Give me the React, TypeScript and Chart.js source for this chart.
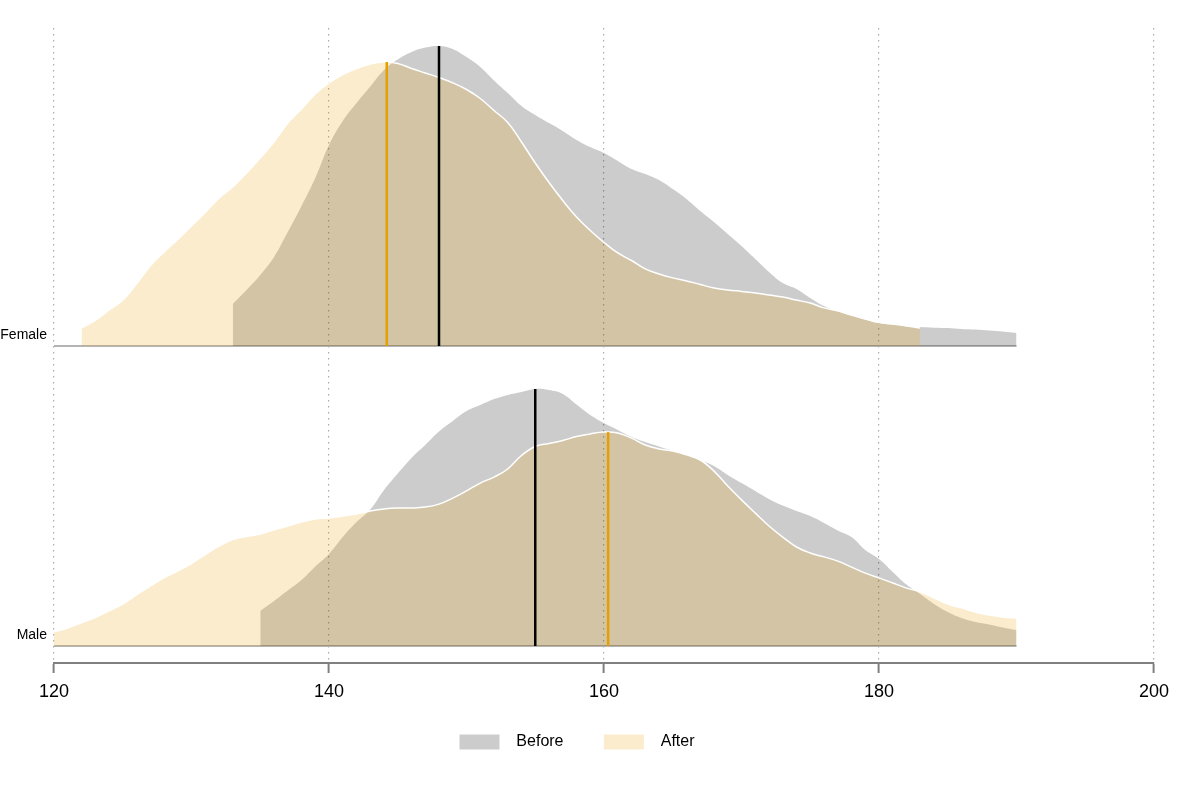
import { useEffect, useRef } from 'react';
import { Chart, registerables } from 'chart.js';

Chart.register(...registerables);

const FONT = "'Liberation Sans', Arial, sans-serif";

// x axis
const xTicks = [120, 140, 160, 180, 200];

// rows (baseline of each ridge on the y scale)
const groups = ['Male', 'Female'];
const groupBase = [0, 100];

// density heights, one value per cm starting at the given height
const femaleBeforeStart = 133;
const femaleBefore = [
  14, 18.7, 23.7, 29.7, 38, 46.7, 56, 67, 75, 81, 86.5, 92, 95.5, 98, 99.5, 100, 99, 96.3, 93, 88.5,
  84.3, 80, 77, 74.3, 71.7, 68.7, 66.3, 64.3, 61.7, 59, 57.3, 55.3, 52.3, 49, 45, 41.3, 37.3, 33.3, 29, 24.7,
  21, 19, 16, 13.3, 11.5, 10.1, 8.8, 7.7, 7.1, 6.6, 6.3, 6.1, 6, 5.7, 5.5, 5.2, 4.8, 4.3,
];

const femaleAfterStart = 122;
const femaleAfter = [
  6, 8.5, 12, 15.3, 20.7, 26.7, 31.3, 35.5, 40, 44.5, 49.3, 53, 57.7, 62.7, 68, 74.3, 79, 84, 87.7, 90.5,
  92.5, 94, 94.7, 94.2, 92.5, 91, 89.5, 87.7, 85.5, 82.5, 78.5, 74.5, 68, 61, 54.5, 48.5, 43, 38.5, 34.5, 31,
  28.5, 25.7, 24, 22.7, 21.7, 20.5, 19.3, 18.7, 18.2, 17.7, 17, 16.3, 15.3, 14.3, 12.7, 11.7, 10.3, 9, 7.8, 7.3,
  6.7, 6,
];

const maleBeforeStart = 135;
const maleBefore = [
  11.7, 15, 18.5, 22, 26.5, 30.7, 36.3, 41.3, 45.5, 52, 57.5, 62.7, 67, 71.5, 75, 78.3, 80.3, 82.3, 83.7, 84.7,
  85.7, 85.3, 84, 80.5, 77, 74.3, 72, 69.7, 68, 66.5, 65, 63.8, 62, 60, 57, 54.3, 51.7, 49, 46.8, 45,
  43.3, 41, 38.5, 36.3, 32, 29, 24.7, 20.5, 17.3, 14, 11.3, 9.3, 8, 7.2, 6.2, 5.3,
];

const maleAfterStart = 120;
const maleAfter = [
  4.7, 6, 7.7, 9.5, 11.7, 14, 17, 20, 22.7, 25, 27.5, 30.5, 33.3, 35.5, 36.5, 37.3, 38.7, 40, 41.3, 42.3,
  42.7, 43.3, 44, 45, 45.7, 46, 46, 46.3, 47.3, 49.3, 51.7, 54.3, 56.3, 59, 63.5, 66.5, 67.5, 68.5, 69.8, 70.7,
  71.3, 71, 69.3, 67, 65.7, 65, 63.7, 62, 58.3, 53.3, 48.7, 44.3, 40, 36.3, 33, 31, 29.7, 28.3, 26.3, 24.3,
  22.7, 21, 19.3, 18, 16, 14, 12.7, 11.3, 10.3, 9.7, 9.3,
];

// medians: [Male, Female] positions and the height their lines reach
const medianBefore = [155, 148];
const medianBeforeTop = [85.7, 100];
const medianAfter = [160.3, 144.2];
const medianAfterTop = [71.3, 94.7];

const lineEnd = 190;

const BEFORE_FILL = 'rgba(0,0,0,0.2)';
const AFTER_FILL = 'rgba(230,159,0,0.2)';

const toPoints = (start: number, values: number[], base: number) =>
  values.map((v, i) => ({ x: start + i, y: base + v }));

export default function App() {
  const canvasRef = useRef<HTMLCanvasElement | null>(null);

  useEffect(() => {
    if (!canvasRef.current) return;
    Chart.defaults.font.family = FONT;

    const ridge = (label: string, data: { x: number; y: number }[], base: number, after: boolean) => ({
      label,
      data,
      fill: { value: base },
      backgroundColor: after ? AFTER_FILL : BEFORE_FILL,
      borderColor: after ? '#ffffff' : 'rgba(0,0,0,0)',
      borderWidth: after ? 1.5 : 0,
      pointRadius: 0,
      tension: 0.4,
      order: after ? 2 : 3,
    });

    const vline = (x: number, base: number, top: number, color: string) => ({
      label: 'median',
      data: [
        { x, y: base },
        { x, y: base + top },
      ],
      borderColor: color,
      borderWidth: 2.5,
      pointRadius: 0,
      fill: false,
      order: 1,
    });

    const datasets: any[] = [];
    groupBase.forEach((base) => {
      datasets.push({
        label: 'baseline',
        data: [
          { x: 120, y: base },
          { x: lineEnd, y: base },
        ],
        borderColor: '#b4b4b4',
        borderWidth: 2,
        pointRadius: 0,
        fill: false,
        order: 4,
      });
    });
    datasets.push(ridge('Before', toPoints(femaleBeforeStart, femaleBefore, 100), 100, false));
    datasets.push(ridge('After', toPoints(femaleAfterStart, femaleAfter, 100), 100, true));
    datasets.push(ridge('Before', toPoints(maleBeforeStart, maleBefore, 0), 0, false));
    datasets.push(ridge('After', toPoints(maleAfterStart, maleAfter, 0), 0, true));
    groupBase.forEach((base, i) => {
      datasets.push(vline(medianBefore[i], base, medianBeforeTop[i], '#000000'));
      datasets.push(vline(medianAfter[i], base, medianAfterTop[i], '#E69F00'));
    });

    // spacing around legend text (no-break spaces) to widen the gaps like the original
    const sp = '\u00a0';

    const chart = new Chart(canvasRef.current, {
      type: 'line',
      data: { datasets },
      options: {
        animation: false,
        responsive: true,
        maintainAspectRatio: false,
        layout: { padding: { left: 0, right: 46, top: 28, bottom: 40 } },
        plugins: {
          tooltip: { enabled: false },
          legend: {
            position: 'bottom',
            labels: {
              boxWidth: 40,
              boxHeight: 15,
              padding: 27,
              color: '#000',
              font: { size: 16, family: FONT },
              generateLabels: () => [
                { text: sp + sp + 'Before' + sp + sp + sp, fillStyle: BEFORE_FILL, strokeStyle: 'rgba(0,0,0,0)', lineWidth: 0, hidden: false, datasetIndex: 2 },
                { text: sp + sp + 'After', fillStyle: AFTER_FILL, strokeStyle: 'rgba(0,0,0,0)', lineWidth: 0, hidden: false, datasetIndex: 3 },
              ],
            },
          },
        },
        scales: {
          x: {
            type: 'linear',
            min: 120,
            max: 200,
            afterBuildTicks: (s: any) => {
              s.ticks = xTicks.map((v) => ({ value: v }));
            },
            afterFit: (s: any) => {
              s.height = 44;
            },
            grid: {
              color: '#aaaaaa',
              lineWidth: 1.2,
              tickColor: '#808080',
              tickLength: 10,
              tickWidth: 2,
            },
            border: { display: true, color: '#808080', width: 2, dash: [1.5, 4.5] },
            ticks: { color: '#000', padding: 8, font: { size: 18, family: FONT } },
          },
          y: {
            type: 'linear',
            min: -5.67,
            max: 206,
            afterBuildTicks: (s: any) => {
              s.ticks = groupBase.map((v) => ({ value: v }));
            },
            afterFit: (s: any) => {
              s.width = 54;
            },
            grid: { display: false, drawTicks: false },
            border: { display: false },
            ticks: {
              color: '#000',
              padding: 7,
              labelOffset: -11,
              font: { size: 14, family: FONT },
              callback: (v: any) => groups[groupBase.indexOf(Number(v))],
            },
          },
        },
      },
    });

    return () => {
      chart.destroy();
    };
  }, []);

  return (
    <div style={{ position: 'absolute', left: 0, top: 0, width: 1200, height: 800, background: '#fff' }}>
      <canvas ref={canvasRef} />
    </div>
  );
}
